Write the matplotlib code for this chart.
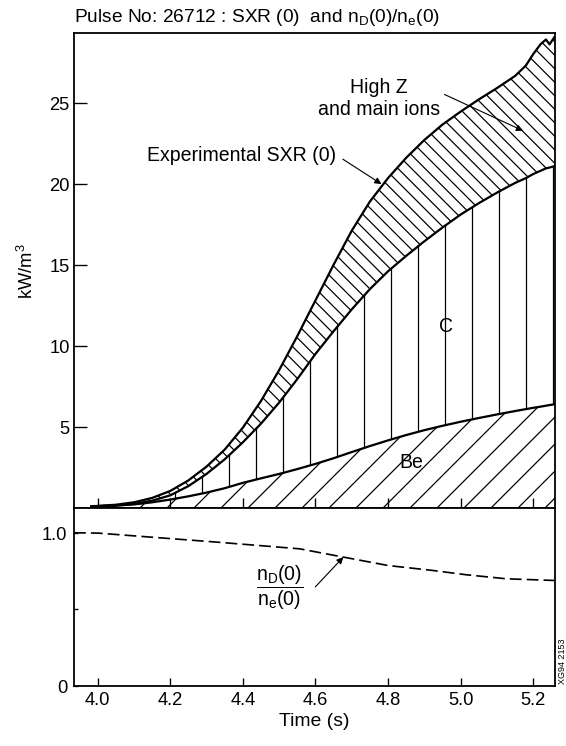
import numpy as np
import matplotlib
matplotlib.use('Agg')
import matplotlib.pyplot as plt

# values
time = [3.98, 4.05, 4.10, 4.15, 4.20, 4.25, 4.30, 4.35, 4.40, 4.45, 4.50, 4.55, 4.60,
        4.65, 4.70, 4.75, 4.80, 4.85, 4.90, 4.95, 5.00, 5.05, 5.10, 5.15, 5.18, 5.20,
        5.22, 5.235, 5.245, 5.26]
sxr_exp = [0.10, 0.20, 0.35, 0.62, 1.05, 1.70, 2.55, 3.60, 4.95, 6.60, 8.50, 10.6, 12.8,
           15.0, 17.1, 18.9, 20.35, 21.6, 22.7, 23.65, 24.45, 25.2, 25.9, 26.65, 27.3, 28.0,
           28.6, 28.9, 28.6, 29.1]
sxr_c = [0.10, 0.15, 0.25, 0.45, 0.78, 1.35, 2.10, 3.00, 4.05, 5.20, 6.50, 7.95, 9.50,
         10.9, 12.25, 13.5, 14.6, 15.55, 16.45, 17.3, 18.1, 18.8, 19.45, 20.05, 20.35, 20.6,
         20.8, 20.95, 21.0, 21.1]
sxr_be = [0.10, 0.15, 0.22, 0.35, 0.52, 0.72, 0.95, 1.22, 1.55, 1.83, 2.10, 2.40, 2.72,
          3.07, 3.45, 3.82, 4.17, 4.50, 4.80, 5.07, 5.32, 5.55, 5.77, 5.98, 6.10, 6.18,
          6.25, 6.31, 6.35, 6.40]

time_ratio = [3.935, 4.00, 4.144, 4.328, 4.557, 4.677, 4.80, 4.925, 5.017, 5.127, 5.26]
nd_ne = [1.0, 0.998, 0.972, 0.939, 0.895, 0.841, 0.786, 0.753, 0.725, 0.699, 0.688]

xticks = [4.0, 4.2, 4.4, 4.6, 4.8, 5.0, 5.2]

DPI = 162
plt.rcParams['font.family'] = ['Liberation Sans', 'DejaVu Sans']
plt.rcParams['mathtext.fontset'] = 'custom'
plt.rcParams['mathtext.rm'] = 'Liberation Sans'
plt.rcParams['mathtext.it'] = 'Liberation Sans'
plt.rcParams['font.size'] = 8.2
plt.rcParams['hatch.linewidth'] = 0.55
plt.rcParams['hatch.color'] = 'k'
plt.rcParams['axes.linewidth'] = 0.8

W, H = 566, 747
fig = plt.figure(figsize=(W / DPI, H / DPI), dpi=DPI)
L, R = 74, 555
ax1 = fig.add_axes([L / W, 1 - 509 / H, (R - L) / W, (509 - 34) / H])
ax2 = fig.add_axes([L / W, 1 - 686.7 / H, (R - L) / W, (686.7 - 509) / H])

# stacked hatched regions
ax1.fill_between(time, 0, sxr_be, facecolor='none', edgecolor='k', hatch='//', lw=0)
ax1.fill_between(time, sxr_be, sxr_c, facecolor='none', edgecolor='k', hatch='|', lw=0)
ax1.fill_between(time, sxr_c, sxr_exp, facecolor='none', edgecolor='k', hatch='\\\\\\\\', lw=0)
for y in (sxr_be, sxr_c, sxr_exp):
    ax1.plot(time, y, color='k', lw=1.0, solid_capstyle='butt', solid_joinstyle='round')

ax1.set_xlim(3.935, 5.26)
ax1.set_ylim(0, 29.3)
ax1.set_xticks(xticks)
ax1.set_xticklabels([])
ax1.set_yticks([5, 10, 15, 20, 25])
ax1.tick_params(axis='x', direction='in', length=4.4, width=0.6)
ax1.tick_params(axis='y', direction='in', length=5.8, width=0.6, pad=2)
ax1.set_ylabel('kW/m$^3$')
ax1.yaxis.set_label_coords(-37 / (R - L), 0.5)

ann = 8.7
ax1.annotate('Experimental SXR (0)', xy=(4.782, 19.98), xytext=(4.658, 21.83),
             ha='right', va='center', fontsize=ann,
             arrowprops=dict(arrowstyle='-|>', color='k', lw=0.5, mutation_scale=6,
                             shrinkA=1, shrinkB=0, relpos=(1.0, 0.45)))
ax1.annotate('High Z\nand main ions', xy=(5.172, 23.27), xytext=(4.775, 25.35),
             ha='center', va='center', linespacing=1.2, fontsize=ann,
             arrowprops=dict(arrowstyle='-|>', color='k', lw=0.5, mutation_scale=6,
                             shrinkA=0, shrinkB=0, relpos=(0.85, 0.82)))
ax1.text(4.959, 11.25, 'C', ha='center', va='center', fontsize=ann)
ax1.text(4.865, 2.85, 'Be', ha='center', va='center', fontsize=ann)

# lower panel
ax2.plot(time_ratio, nd_ne, color='k', lw=0.75, ls=(0, (7, 3)))
ax2.set_xlim(3.935, 5.26)
ax2.set_ylim(0, 1.162)
ax2.set_xticks(xticks)
ax2.set_xticklabels([f'{v:.1f}' for v in xticks])
ax2.set_yticks([0, 0.5, 1.0])
ax2.set_yticklabels(['0', '', '1.0'])
ax2.tick_params(axis='x', direction='in', length=3.6, width=0.6, pad=2.5)
ax2.tick_params(axis='y', direction='in', length=1.8, width=0.6, pad=3)
ax2.set_xlabel('Time (s)', fontsize=8.6)
ax2.xaxis.set_label_coords(0.5, -(713 - 686.7) / (686.7 - 509))

ax2.annotate(r'$\dfrac{\mathrm{n_D(0)}}{\mathrm{n_e(0)}}$', xy=(4.677, 0.841),
             xytext=(4.502, 0.646), ha='center', va='center', fontsize=ann,
             arrowprops=dict(arrowstyle='-|>', color='k', lw=0.5, mutation_scale=6,
                             shrinkA=0, shrinkB=0, relpos=(1.25, 0.5)))

fig.text(L / W, 1 - 22 / H, r'Pulse No: 26712 : SXR (0)  and n$_\mathrm{D}$(0)/n$_\mathrm{e}$(0)',
         ha='left', va='baseline', fontsize=8.5)
fig.text(562.5 / W, 1 - 661.7 / H, 'XG94 2153', rotation=90, ha='center', va='center',
         fontsize=4.0)

fig.savefig('out.png', dpi=DPI)
